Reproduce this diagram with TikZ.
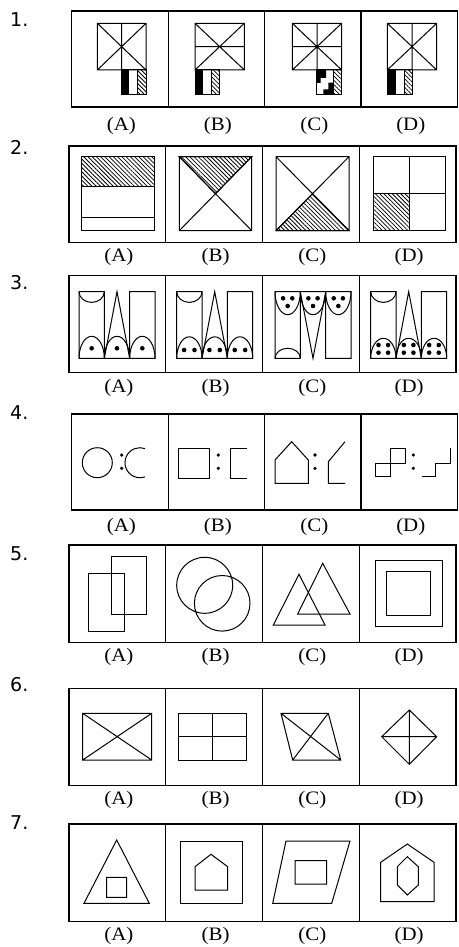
\documentclass[tikz,border=0pt]{standalone}
\usepackage{fontspec}
\newfontfamily\numfont{DejaVu Sans}
\newfontfamily\optfont{Liberation Serif}
\usetikzlibrary{patterns.meta}

\begin{document}
\begin{tikzpicture}[x=1pt, y=-1pt,
        panel/.style={draw=black, line width=1.2pt},
        fig/.style={draw=black, line width=1pt, line join=miter},
        hatch/.style={pattern={Lines[angle=-45, distance=3pt, line width=0.75pt]}},
        num/.style={anchor=west, inner sep=0pt, font=\numfont\fontsize{19}{19}\selectfont},
        opt/.style={inner sep=0pt, font=\optfont\fontsize{19}{19}\selectfont}
    ]
    \useasboundingbox (0,0) rectangle (458,947);

    % answer boxes, numbers and option labels
    \foreach \r/\xl/\xr/\yt/\yb/\ly/\ny in {
        1/71.7/457.5/11/107/126/20,
        2/69/456/146/242.3/256.7/147.5,
        3/69/456/275.7/372.7/388.3/283,
        4/71.7/457.5/414/510/526.7/412.5,
        5/69/456/545/642.3/656.7/553.3,
        6/69/456/688.3/785.7/800/685,
        7/69/456/824/921.7/936/822.5} {
        \draw[panel] (\xl,\yt) rectangle (\xr,\yb);
        \foreach \k in {1,2,3}
            \draw[panel] ({\xl+\k*(\xr-\xl)/4},\yt) -- ({\xl+\k*(\xr-\xl)/4},\yb);
        \node[num] (num\r) at (10,\ny) {\r.};
        \foreach \k/\t in {1/A,2/B,3/C,4/D}
            \node[opt] (opt\r\t) at ({\xl+(\k-0.5)*(\xr-\xl)/4+1.5},\ly) {\scalebox{1.1}[1]{(\t)}};
    }

    % row 1
    \draw[fig] (97.3,23.3) rectangle (146,70) (97.3,23.3) -- (146,70) (146,23.3) -- (97.3,70) (121.6,23.3) -- (121.6,70);
    \fill (121,70) rectangle (129.3,95);
    \draw[fig, hatch] (137.7,70) rectangle (146,95);
    \draw[fig] (121,70) rectangle (146,95);
    \draw[fig] (195,23.3) rectangle (244.3,70) (195,23.3) -- (244.3,70) (244.3,23.3) -- (195,70) (195,46.6) -- (244.3,46.6);
    \fill (195,70) rectangle (203,95);
    \draw[fig, hatch] (211,70) rectangle (219.3,95);
    \draw[fig] (195,70) rectangle (219.3,95);
    \draw[fig] (292.3,23.3) rectangle (341.7,70) (292.3,23.3) -- (341.7,70) (341.7,23.3) -- (292.3,70)
        (317,23.3) -- (317,70) (292.3,46.6) -- (341.7,46.6);
    \fill (316.7,70) -- (326,70) -- (326,78) -- (320.5,78) -- (320.5,83) -- (316.7,83) -- cycle;
    \fill (323.3,95) -- (333,95) -- (333,82.7) -- (328.3,82.7) -- (328.3,89.3) -- (323.3,89.3) -- cycle;
    \draw[fig, hatch] (333,70) rectangle (341.7,95);
    \draw[fig] (316.7,70) rectangle (341.7,95);
    \draw[fig] (387.3,23.3) rectangle (436.7,70) (387.3,23.3) -- (436.7,70) (436.7,23.3) -- (387.3,70) (412,23.3) -- (412,70);
    \fill (387.3,70) rectangle (396,95);
    \draw[fig, hatch] (404.3,70) rectangle (412.7,95);
    \draw[fig] (387.3,70) rectangle (412.7,95);

    % row 2
    \draw[fig, hatch] (81.7,156.7) rectangle (154.3,186.7);
    \draw[fig] (81.7,156.7) rectangle (154.3,230.7) (81.7,217.7) -- (154.3,217.7);
    \draw[fig, hatch] (179.3,156.7) -- (251.7,156.7) -- (215.5,193.7) -- cycle;
    \draw[fig] (179.3,156.7) rectangle (251.7,230.7) (179.3,156.7) -- (251.7,230.7) (251.7,156.7) -- (179.3,230.7);
    \draw[fig, hatch] (276,230.7) -- (349,230.7) -- (312.5,193.7) -- cycle;
    \draw[fig] (276,156.7) rectangle (349,230.7) (276,156.7) -- (349,230.7) (349,156.7) -- (276,230.7);
    \draw[fig, hatch] (373.3,193.7) rectangle (409.5,230.7);
    \draw[fig] (373.3,156.7) rectangle (445.7,230.7) (409.5,156.7) -- (409.5,230.7) (373.3,193.7) -- (445.7,193.7);

    % row 3
    \foreach \x/\h in {79/22, 176.7/21.5, 370.7/20} {
        \draw[fig] (\x,291.7) rectangle ({\x+25.33},358.3) ({\x+50.67},291.7) rectangle ({\x+76},358.3)
            ({\x+25.33},358.3) -- ({\x+38},291.7) -- ({\x+50.67},358.3) -- cycle;
        \draw[fig] (\x,291.7) arc[start angle=180, end angle=0, x radius=12.67, y radius=10.7];
        \foreach \c in {0,1,2}
            \draw[fig] ({\x+\c*25.33},358.3) arc[start angle=180, end angle=360, x radius=12.67, y radius=\h];
    }
    \foreach \c in {0,1,2} {
        \fill ({91.67+\c*25.33},348.3) circle (2.3);
        \fill ({189.3+\c*25.33-5.2},350) circle (2.3) ({189.3+\c*25.33+5.2},350) circle (2.3);
        \fill ({383.3+\c*25.33-4.8},345) circle (2.3) ({383.3+\c*25.33+4.8},345) circle (2.3)
            ({383.3+\c*25.33-4.8},352.7) circle (2.3) ({383.3+\c*25.33+4.8},352.7) circle (2.3);
    }
    \draw[fig] (300.3,358.3) -- (275,358.3) -- (275,291.7) -- (351,291.7) -- (351,358.3) -- (325.7,358.3) -- (325.7,291.7)
        (300.3,291.7) -- (300.3,358.3) (300.3,291.7) -- (313,358.3) -- (325.7,291.7);
    \draw[fig] (275,358.3) arc[start angle=180, end angle=360, x radius=12.67, y radius=10];
    \foreach \c in {0,1,2} {
        \draw[fig] ({275+\c*25.33},291.7) arc[start angle=180, end angle=0, x radius=12.67, y radius=23];
        \fill ({287.67+\c*25.33-4.6},298.3) circle (2.3) ({287.67+\c*25.33+4.6},298.3) circle (2.3)
            ({287.67+\c*25.33},306) circle (2.3);
    }

    % row 4
    \draw[fig] (97.3,462.7) circle (15);
    \draw[fig] (145.1,476.8) arc[start angle=70, end angle=290, radius=15];
    \draw[fig] (178.3,448.3) rectangle (209.3,478.3);
    \draw[fig] (247.3,448.3) -- (230,448.3) -- (230,478.3) -- (247.3,478.3);
    \draw[fig] (275,483.3) -- (275,460) -- (291.7,441.7) -- (308.3,460) -- (308.3,483.3) -- cycle;
    \draw[fig] (345,483.3) -- (328.3,483.3) -- (328.3,461.7) -- (345,441.7);
    \draw[fig] (375,463.3) rectangle (390,476.7) (390,448.3) rectangle (405,463.3);
    \draw[fig] (421.7,476) -- (435,476) -- (435,463.3) -- (450,463.3) -- (450,448.3);
    \foreach \x in {121.7, 218.3, 315, 413.3}
        \fill (\x,455) circle (1.8) (\x,468.3) circle (1.8);

    % row 5
    \draw[fig] (88.3,573.3) rectangle (124,631) (111.7,556) rectangle (146.7,614);
    \draw[fig] (204.7,585.3) circle (28) (222.2,603.3) circle (27.8);
    \draw[fig] (299,574.3) -- (325,625) -- (273.3,625) -- cycle;
    \draw[fig] (322.7,563.3) -- (350,614) -- (297.7,614) -- cycle;
    \draw[fig] (375.7,560.7) rectangle (442.3,626.7) (386.7,571.7) rectangle (430.7,615.7);

    % row 6
    \draw[fig] (82.7,713.3) rectangle (151.7,760) (82.7,713.3) -- (151.7,760) (151.7,713.3) -- (82.7,760);
    \draw[fig] (178.3,713.3) rectangle (246.7,760) (212.5,713.3) -- (212.5,760) (178.3,736.7) -- (246.7,736.7);
    \draw[fig] (281,713.3) -- (328.3,713.3) -- (340.7,760) -- (292.7,760) -- cycle
        (281,713.3) -- (340.7,760) (328.3,713.3) -- (292.7,760);
    \draw[fig] (381.7,736.7) -- (409.3,710) -- (436.7,736.7) -- (409.3,764.3) -- cycle
        (381.7,736.7) -- (436.7,736.7) (409.3,710) -- (409.3,764.3);

    % row 7
    \draw[fig] (116.7,840) -- (149.3,903.3) -- (84,903.3) -- cycle (106.7,877.3) rectangle (126.7,897.3);
    \draw[fig] (180.7,841) rectangle (242.7,903.3);
    \draw[fig] (195,890) -- (195,866.7) -- (211,854.3) -- (227.7,866.7) -- (227.7,890) -- cycle;
    \draw[fig] (286,841) -- (350,841) -- (331.7,903.3) -- (272.7,903.3) -- cycle (295,860.7) rectangle (326.7,884);
    \draw[fig] (380.7,901.7) -- (380.7,862.3) -- (407.3,844) -- (434,862.3) -- (434,901.7) -- cycle;
    \draw[fig] (407.3,856.7) -- (418.3,866.7) -- (418.3,885) -- (407.3,895) -- (397.3,885) -- (397.3,866.7) -- cycle;

\end{tikzpicture}
\end{document}
